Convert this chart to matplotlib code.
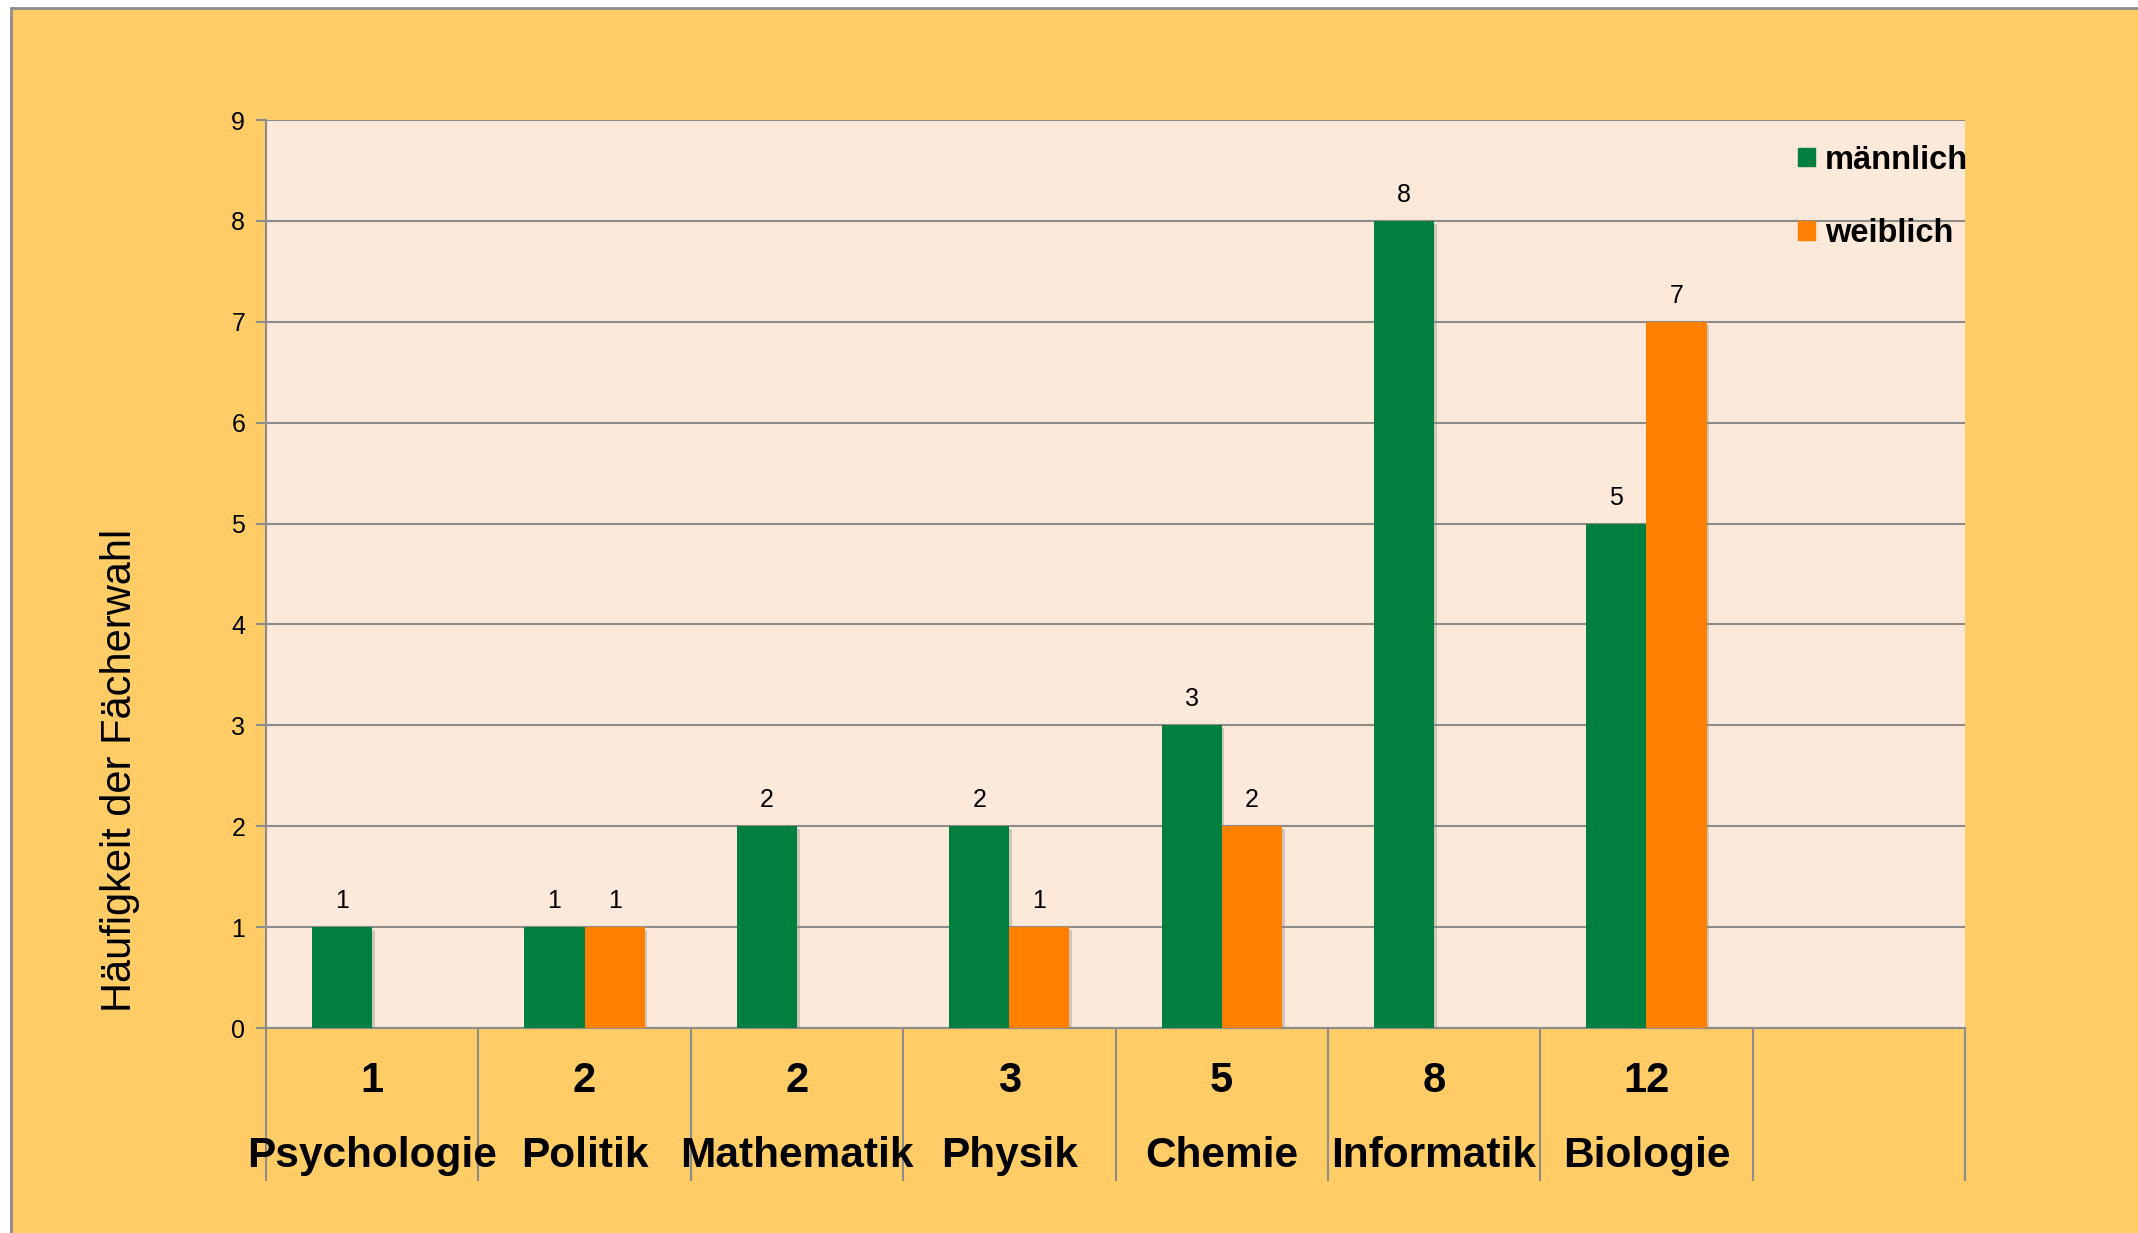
import matplotlib
matplotlib.use('Agg')
import matplotlib.pyplot as plt
import matplotlib.patheffects as pe
from matplotlib.patches import Rectangle, Patch
import numpy as np

plt.rcParams['font.family'] = ['Liberation Sans', 'DejaVu Sans']

# data
subjects = ['Psychologie', 'Politik', 'Mathematik', 'Physik', 'Chemie', 'Informatik', 'Biologie']
totals = [1, 2, 2, 3, 5, 8, 12]
maennlich = [1, 1, 2, 2, 3, 8, 5]
weiblich = [0, 1, 0, 1, 2, 0, 7]
n_slots = 8  # one empty slot at the end

GREEN = '#007F3F'
ORANGE = '#FF8000'
BG = '#FFCC66'
PLOT_BG = '#FDE9D9'
GRID = '#8C8C8C'

fig = plt.figure(figsize=(21.38, 12.33), dpi=100, facecolor='white')
fig.patches.append(Rectangle((11 / 2138, -0.01), 1.1, 1 - 8 / 1233 + 0.01,
                             transform=fig.transFigure, facecolor=BG,
                             edgecolor=GRID, linewidth=2, zorder=-10))

ax = fig.add_axes([266 / 2138, 1 - 1028 / 1233, (1965 - 266) / 2138, (1028 - 120) / 1233])
ax.set_facecolor(PLOT_BG)

x = np.arange(len(subjects)) + 0.5
w = 0.283
shadow = [pe.withSimplePatchShadow(offset=(2, -2), shadow_rgbFace='gray', alpha=0.35)]
b1 = ax.bar(x - w / 2, maennlich, w, color=GREEN, zorder=3, path_effects=shadow)
b2 = ax.bar(x + w / 2, weiblich, w, color=ORANGE, zorder=3, path_effects=shadow)

for bars, vals in ((b1, maennlich), (b2, weiblich)):
    for rect, v in zip(bars, vals):
        if v == 0:
            continue
        ax.annotate(str(v), (rect.get_x() + rect.get_width() / 2, v),
                    xytext=(0, 10), textcoords='offset points',
                    ha='center', va='bottom', fontsize=18)

ax.set_xlim(0, n_slots)
ax.set_ylim(0, 9)
ax.set_yticks(range(10))
ax.grid(axis='y', color=GRID, linewidth=1.5, zorder=1)
ax.tick_params(axis='y', labelsize=18, length=7, width=1.5, color=GRID, pad=8)

# category dividers extending below the axis
ax.set_xticks(range(n_slots + 1))
ax.set_xticklabels([])
ax.tick_params(axis='x', direction='out', length=110, width=1.5, color=GRID)

for s in ('top', 'right'):
    ax.spines[s].set_visible(False)
for s in ('left', 'bottom'):
    ax.spines[s].set_color(GRID)
    ax.spines[s].set_linewidth(1.5)

trans = ax.get_xaxis_transform()
for xi, t, name in zip(x, totals, subjects):
    ax.text(xi, -0.058, str(t), transform=trans, ha='center', va='center',
            fontsize=30, fontweight='bold')
    ax.text(xi, -0.141, name, transform=trans, ha='center', va='center',
            fontsize=30.5, fontweight='bold')

fig.text(120 / 2138, 1 - 770 / 1233, 'Häufigkeit der Fächerwahl', rotation=90,
         ha='center', va='center', fontsize=30)

handles = [Patch(color=GREEN, label='männlich'), Patch(color=ORANGE, label='weiblich')]
ax.legend(handles=handles, loc='upper left', bbox_to_anchor=(0.902, 0.973), frameon=False,
          prop={'weight': 'bold', 'size': 23.5}, handlelength=0.5, handleheight=0.5,
          handletextpad=0.3, labelspacing=1.3, borderpad=0, borderaxespad=0)

fig.savefig('out.png', dpi=100, facecolor=fig.get_facecolor())
